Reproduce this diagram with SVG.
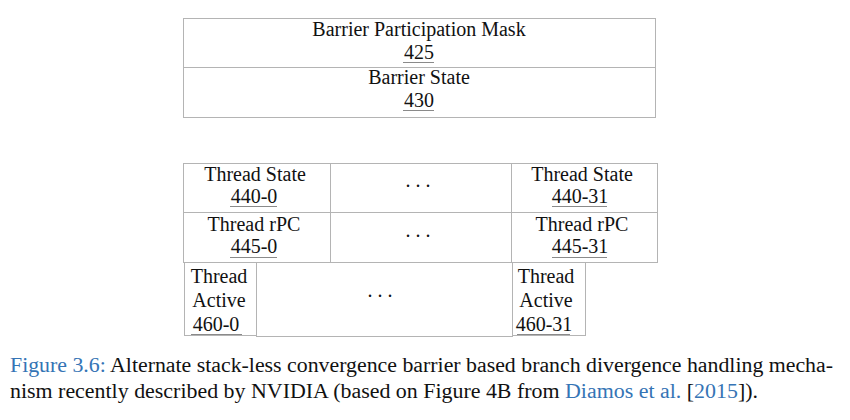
<svg xmlns="http://www.w3.org/2000/svg" width="850" height="420" viewBox="0 0 850 420">
<style>
.box{fill:#fff;stroke:#b4b4b4;stroke-width:1}
.t{font-size:20px;fill:#111;text-anchor:middle}
.u{stroke:#8a8a8a;stroke-width:1}
.cap{font-size:20px;fill:#111}
.blue{fill:#3574b5}
</style>
<rect width="850" height="420" fill="#fff"/>
<g id="barrier-participation-mask">
<rect class="box" x="183.5" y="18.5" width="472" height="49"/>
<text class="t" font-family="Liberation Serif" x="419" y="36">Barrier Participation Mask</text>
<text class="t" font-family="Liberation Serif" x="419" y="59">425</text>
<line class="u" x1="403" y1="62.5" x2="434" y2="62.5"/>
</g>
<g id="barrier-state">
<rect class="box" x="183.5" y="67.5" width="472" height="50"/>
<text class="t" font-family="Liberation Serif" x="419" y="84">Barrier State</text>
<text class="t" font-family="Liberation Serif" x="419" y="107">430</text>
<line class="u" x1="403" y1="110.5" x2="434" y2="110.5"/>
</g>
<g id="thread-state-0">
<rect class="box" x="183.5" y="163.5" width="147" height="49"/>
<text class="t" font-family="Liberation Serif" x="255" y="181">Thread State</text>
<text class="t" font-family="Liberation Serif" x="254" y="203">440-0</text>
<line class="u" x1="230" y1="206.5" x2="277" y2="206.5"/>
</g>
<g id="thread-state-dots">
<rect class="box" x="330.5" y="163.5" width="181" height="49"/>
<text class="t" font-family="Liberation Serif" x="418" y="187">. . .</text>
</g>
<g id="thread-state-31">
<rect class="box" x="511.5" y="163.5" width="146" height="49"/>
<text class="t" font-family="Liberation Serif" x="582" y="181">Thread State</text>
<text class="t" font-family="Liberation Serif" x="580" y="203">440-31</text>
<line class="u" x1="552" y1="206.5" x2="607" y2="206.5"/>
</g>
<g id="thread-rpc-0">
<rect class="box" x="183.5" y="212.5" width="147" height="50"/>
<text class="t" font-family="Liberation Serif" x="254" y="231">Thread rPC</text>
<text class="t" font-family="Liberation Serif" x="254" y="253">445-0</text>
<line class="u" x1="230" y1="257.5" x2="277" y2="257.5"/>
</g>
<g id="thread-rpc-dots">
<rect class="box" x="330.5" y="212.5" width="181" height="50"/>
<text class="t" font-family="Liberation Serif" x="418" y="237">. . .</text>
</g>
<g id="thread-rpc-31">
<rect class="box" x="511.5" y="212.5" width="146" height="50"/>
<text class="t" font-family="Liberation Serif" x="582" y="231">Thread rPC</text>
<text class="t" font-family="Liberation Serif" x="580" y="253">445-31</text>
<line class="u" x1="552" y1="257.5" x2="607" y2="257.5"/>
</g>
<g id="thread-active-dots">
<rect class="box" x="256.5" y="262.5" width="256" height="74"/>
<text class="t" font-family="Liberation Serif" x="380" y="297">. . .</text>
</g>
<g id="thread-active-0">
<rect class="box" x="184.5" y="262.5" width="72" height="73"/>
<text class="t" font-family="Liberation Serif" x="219" y="283">Thread</text>
<text class="t" font-family="Liberation Serif" x="219" y="307">Active</text>
<text class="t" font-family="Liberation Serif" x="216" y="331">460-0</text>
<line class="u" x1="191" y1="334.5" x2="242" y2="334.5"/>
</g>
<g id="thread-active-31">
<rect class="box" x="512.5" y="262.5" width="73" height="73"/>
<text class="t" font-family="Liberation Serif" x="546" y="283">Thread</text>
<text class="t" font-family="Liberation Serif" x="546" y="307">Active</text>
<text class="t" font-family="Liberation Serif" x="544" y="331">460-31</text>
<line class="u" x1="517" y1="334.5" x2="570" y2="334.5"/>
</g>
<g id="connectors"></g>
<g id="caption">
<text class="cap" font-family="Liberation Serif" x="10" y="372" textLength="823" lengthAdjust="spacingAndGlyphs"><tspan class="blue">Figure 3.6:</tspan> Alternate stack-less convergence barrier based branch divergence handling mecha-</text>
<text class="cap" font-family="Liberation Serif" x="10" y="398" textLength="748" lengthAdjust="spacingAndGlyphs">nism recently described by NVIDIA (based on Figure 4B from <tspan class="blue">Diamos et al.</tspan> [<tspan class="blue">2015</tspan>]).</text>
</g>
</svg>
